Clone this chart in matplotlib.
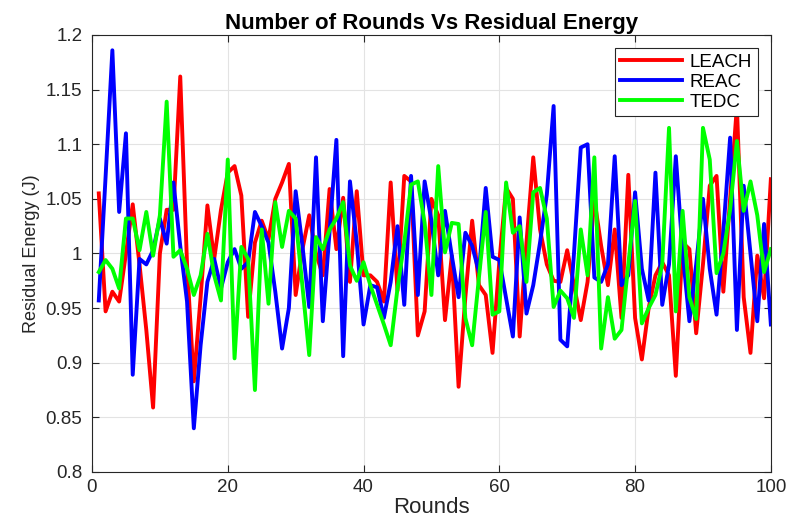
import numpy as np
import matplotlib
matplotlib.use('Agg')
import matplotlib.pyplot as plt
from matplotlib.ticker import FuncFormatter

plt.rcParams['font.family'] = ['Liberation Sans', 'DejaVu Sans']

#Values, rounds 1..100
rounds = list(range(1, 101))
leach = [1.055, 0.947, 0.965, 0.956, 1.0, 1.045, 0.99, 0.93, 0.859, 1.0,
         1.04, 1.04, 1.162, 0.99, 0.883, 0.96, 1.044, 0.995, 1.04, 1.074,
         1.080, 1.053, 0.942, 1.01, 1.03, 1.013, 1.05, 1.065, 1.082, 0.962,
         1.004, 1.035, 1.0, 0.98, 1.059, 1.004, 1.051, 0.974, 1.057, 0.98,
         0.98, 0.974, 0.956, 1.065, 0.966, 1.071, 1.066, 0.925, 0.947, 1.05,
         1.035, 0.939, 0.998, 0.878, 0.96, 1.03, 0.971, 0.962, 0.909, 0.992,
         1.06, 1.05, 0.924, 1.01, 1.088, 1.022, 0.99, 0.975, 0.974, 1.003,
         0.971, 0.939, 0.974, 1.05, 1.007, 0.971, 1.022, 0.941, 1.072, 0.941,
         0.903, 0.95, 0.98, 0.992, 0.98, 0.888, 1.01, 1.004, 0.927, 0.99,
         1.062, 1.071, 0.965, 1.05, 1.135, 0.96, 0.909, 0.998, 0.959, 1.068]
reac = [0.957, 1.07, 1.186, 1.038, 1.110, 0.889, 0.995, 0.99, 1.003, 1.032,
        1.009, 1.065, 1.007, 0.956, 0.84, 0.916, 0.974, 0.995, 0.968, 0.992,
        1.004, 0.986, 0.992, 1.038, 1.025, 1.01, 0.965, 0.913, 0.95, 1.057,
        1.007, 0.951, 1.088, 0.938, 1.02, 1.104, 0.906, 1.066, 1.01, 0.935,
        0.971, 0.969, 0.941, 0.974, 1.025, 0.953, 1.071, 0.962, 1.066, 1.03,
        0.98, 1.039, 0.998, 0.96, 1.019, 1.007, 0.983, 1.06, 0.997, 0.994,
        0.959, 0.924, 1.033, 0.945, 0.971, 1.01, 1.054, 1.135, 0.921, 0.915,
        1.0, 1.097, 1.1, 0.978, 0.974, 0.99, 1.089, 0.971, 0.98, 1.056,
        0.986, 0.957, 1.074, 0.953, 0.99, 1.089, 1.001, 0.938, 0.99, 1.05,
        0.986, 0.944, 1.02, 1.106, 0.93, 1.062, 1.0, 0.938, 1.027, 0.935]
tedc = [0.983, 0.994, 0.986, 0.968, 1.032, 1.032, 1.003, 1.038, 0.998, 1.035,
        1.139, 0.997, 1.003, 0.986, 0.962, 0.98, 1.018, 0.98, 0.957, 1.086,
        0.904, 1.006, 0.995, 0.875, 1.022, 0.954, 1.047, 1.006, 1.039, 1.032,
        0.97, 0.907, 1.015, 1.004, 1.022, 1.032, 1.047, 0.989, 0.975, 0.992,
        0.971, 0.953, 0.935, 0.916, 0.968, 1.01, 1.063, 1.066, 1.028, 0.962,
        1.080, 1.001, 1.028, 1.027, 0.941, 0.916, 0.978, 1.038, 0.944, 0.947,
        1.065, 1.019, 1.025, 0.974, 1.056, 1.06, 1.032, 0.951, 0.966, 0.959,
        0.941, 1.022, 0.98, 1.088, 0.913, 0.96, 0.922, 0.93, 0.99, 1.048,
        0.936, 0.95, 0.962, 0.99, 1.115, 0.947, 1.039, 0.96, 0.94, 1.115,
        1.086, 0.982, 1.0, 1.04, 1.103, 1.039, 1.066, 1.035, 0.983, 1.004]

fig = plt.figure(figsize=(7.89, 5.27), dpi=100)
ax = fig.add_axes([0.1166, 0.1044, 0.8604, 0.8292])

ax.plot(rounds, leach, color='#ff0000', linewidth=2.8, label='LEACH')
ax.plot(rounds, reac, color='#0000ff', linewidth=2.8, label='REAC')
ax.plot(rounds, tedc, color='#00ff00', linewidth=2.8, label='TEDC')

ax.set_xlim(0, 100)
ax.set_ylim(0.8, 1.2)
ax.set_xticks(np.arange(0, 101, 20))
ax.set_yticks(np.arange(0.8, 1.2001, 0.05))
ax.yaxis.set_major_formatter(FuncFormatter(lambda v, p: '%g' % round(v, 2)))
ax.grid(True, color='#e3e3e3', linewidth=0.8)
ax.set_axisbelow(True)
ax.tick_params(direction='in', top=True, right=True, labelsize=13.5,
               colors='#262626', length=5, width=0.8)
ax.tick_params(axis='y', pad=7)
ax.tick_params(axis='x', pad=5)
for s in ax.spines.values():
    s.set_color('#262626')
    s.set_linewidth(0.8)

ax.set_title('Number of Rounds Vs Residual Energy', fontsize=16, fontweight='bold',
             color='black', pad=4)
ax.set_xlabel('Rounds', fontsize=16, color='#262626', labelpad=1)
ax.set_ylabel('Residual Energy (J)', fontsize=13, color='#262626', labelpad=4)

leg = ax.legend(loc='upper right', fontsize=13.5, fancybox=False, framealpha=1,
                edgecolor='#262626', handlelength=3.3, borderaxespad=0.7,
                labelspacing=0.15, borderpad=0.3, handletextpad=0.4)
leg.get_frame().set_linewidth(0.8)

fig.savefig('out.png', dpi=100)
